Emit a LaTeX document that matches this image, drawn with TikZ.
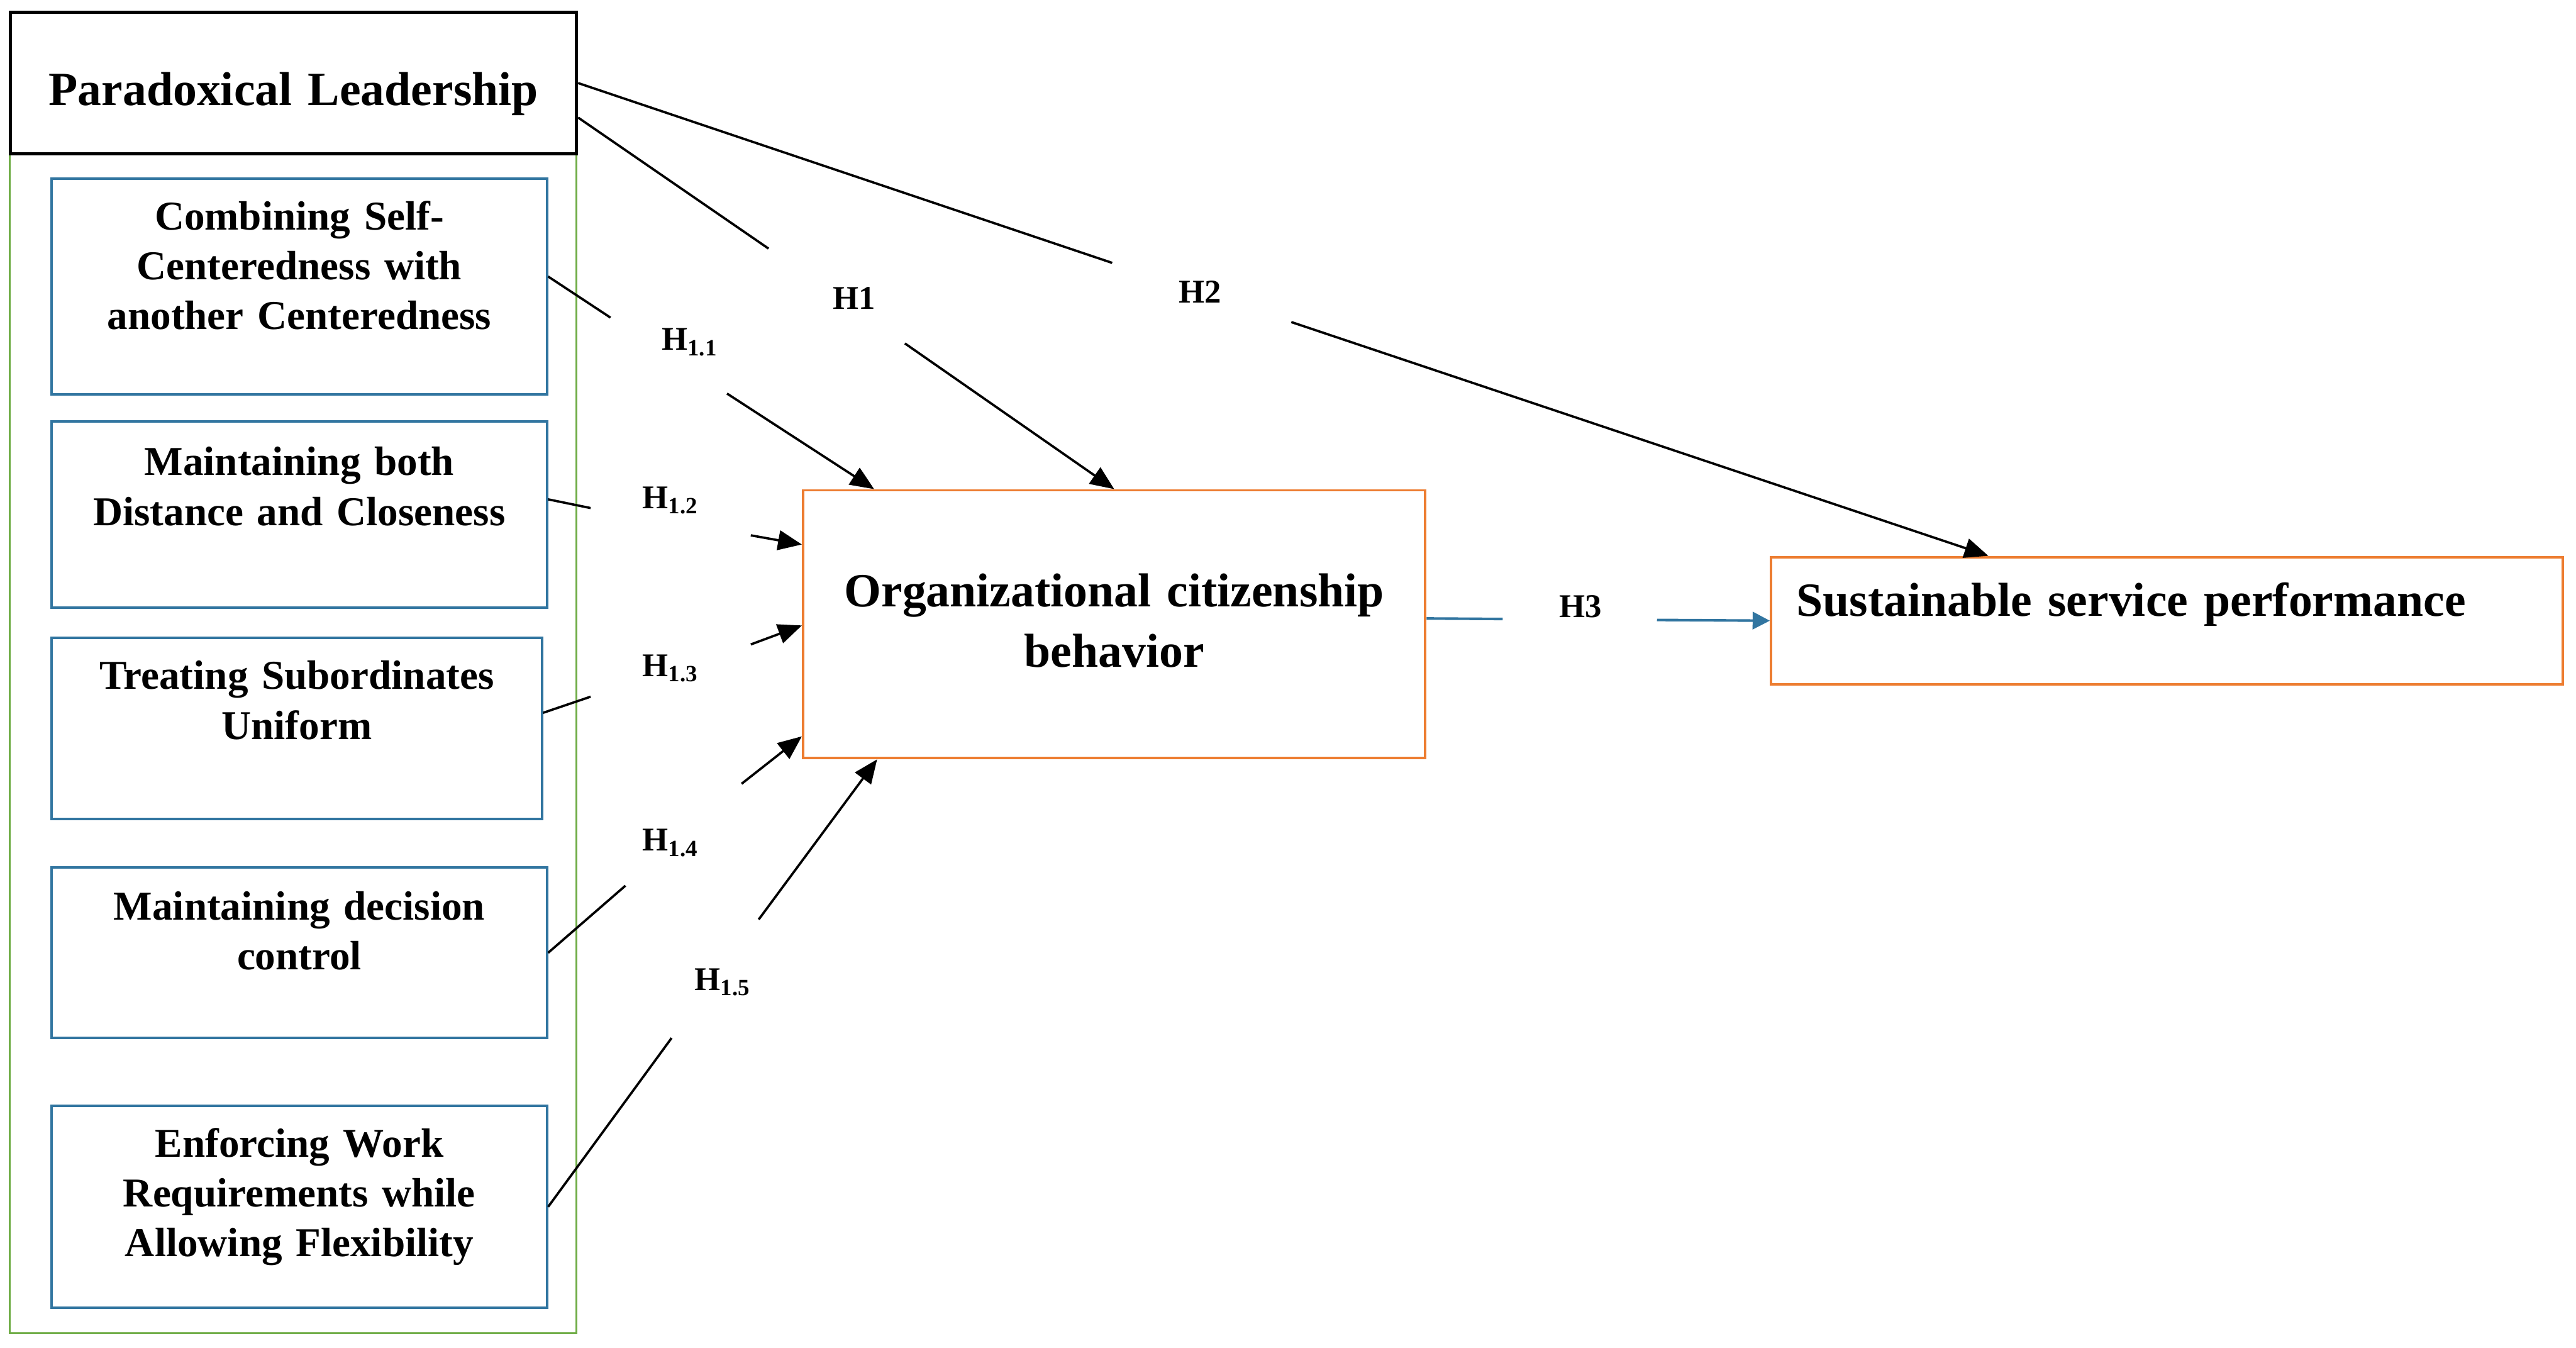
\documentclass[tikz,border=0pt]{standalone}
\usepackage{fontspec}
\setmainfont{Liberation Serif}
\usepackage{xcolor}
\usepackage{tikz}
\usetikzlibrary{arrows.meta, positioning}

\definecolor{dimblue}{RGB}{49,117,160}
\definecolor{grpgreen}{RGB}{112,173,71}
\definecolor{outorange}{RGB}{237,125,49}

\begin{document}
\begin{tikzpicture}[
  x=0.02cm, y=-0.02cm,
  bigfont/.style={font=\fontsize{16.5}{20.9}\selectfont\bfseries},
  dimbox/.style={draw=dimblue, line width=0.85pt, anchor=base, inner sep=0pt, text width=6.03cm, align=center, font=\fontsize{14.2}{17.3}\selectfont\bfseries},
  outbox/.style={draw=outorange, line width=0.85pt, anchor=base, inner sep=0pt, bigfont},
  hyp/.style={font=\fontsize{11.5}{13}\selectfont\bfseries, inner sep=1pt},
  link/.style={draw, line width=0.8pt},
  arr/.style={link, -{Triangle[length=2.9mm, width=2.4mm]}}
]
  \useasboundingbox (0,0) rectangle (1568,820);

  \node[draw=grpgreen, line width=0.65pt, minimum width=6.9cm, minimum height=14.358cm, inner sep=0pt] (dims) at (178.5,452.45) {};
  \node[draw, line width=1.05pt, anchor=base, inner sep=0pt, text width=6.894cm, align=center, text height=1.128cm, text depth=0.59cm, bigfont] (pl) at (178.65,64) {Paradoxical Leadership};

  \node[dimbox, text height=0.624cm, text depth=2.004cm] (c1) at (182.2,139.8) {Combining Self-\\Centeredness with\\another Centeredness};
  \node[dimbox, text height=0.654cm, text depth=1.61cm] (c2) at (182.2,289.3) {Maintaining both\\Distance and Closeness};
  \node[dimbox, text width=5.97cm, text height=0.63cm, text depth=1.582cm] (c3) at (180.65,419.5) {Treating Subordinates\\Uniform};
  \node[dimbox, text height=0.638cm, text depth=1.44cm] (c4) at (182.2,559.8) {Maintaining decision\\control};
  \node[dimbox, text height=0.622cm, text depth=1.84cm] (c5) at (182.2,704) {Enforcing Work\\Requirements while\\Allowing Flexibility};

  \node[outbox, text width=7.576cm, align=center, text height=1.42cm, text depth=1.84cm] (ocb) at (678.2,369.4) {Organizational citizenship\\behavior};
  \node[outbox, text width=9.02cm, inner xsep=0.31cm, align=left, text height=0.72cm, text depth=0.83cm] (ssp) at (1319,375) {Sustainable service performance};

  \node[hyp] (h1) at (520,181.5) {H1};
  \node[hyp] (h2) at (730.3,177.6) {H2};
  \node[hyp] (h3) at (962,369) {H3};
  \node[hyp] (h11) at (420,208.2) {H\textsubscript{1.1}};
  \node[hyp] (h12) at (408.2,304.4) {H\textsubscript{1.2}};
  \node[hyp] (h13) at (408.2,406.6) {H\textsubscript{1.3}};
  \node[hyp] (h14) at (408.3,513) {H\textsubscript{1.4}};
  \node[hyp] (h15) at (440.1,597.8) {H\textsubscript{1.5}};

  \coordinate (g2a) at (677,160);     \coordinate (g2b) at (786,196);
  \coordinate (g1a) at (467.8,151.3); \coordinate (g1b) at (550.8,209);
  \coordinate (g11a) at (371.6,193.3); \coordinate (g11b) at (442.5,239.5);
  \coordinate (g12a) at (359.5,309.2); \coordinate (g12b) at (457,325.8);
  \coordinate (g13a) at (359.5,424);   \coordinate (g13b) at (457,392.2);
  \coordinate (g14a) at (380.7,539);   \coordinate (g14b) at (451.4,477);
  \coordinate (g15a) at (408.8,631.7); \coordinate (g15b) at (461.8,559.6);
  \coordinate (g3a) at (914.7,376.7);  \coordinate (g3b) at (1008.6,377.3);

  \draw[link] (pl.east) -- (g2a);
  \draw[arr] (g2b) -- ([xshift=2.66cm]ssp.north west);
  \draw[link] ([yshift=-0.42cm]pl.east) -- (g1a);
  \draw[arr] (g1b) -- (ocb.north);

  \draw[link] ([yshift=0.12cm]c1.east) -- (g11a);
  \draw[arr] (g11b) -- ([xshift=0.88cm]ocb.north west);
  \draw[link] ([yshift=0.186cm]c2.east) -- (g12a);
  \draw[arr] (g12b) -- ([yshift=-0.674cm]ocb.north west);
  \draw[link] ([yshift=0.19cm]c3.east) -- (g13a);
  \draw[arr] (g13b) -- ([yshift=-1.66cm]ocb.north west);
  \draw[link] (c4.east) -- (g14a);
  \draw[arr] (g14b) -- ([yshift=0.28cm]ocb.south west);
  \draw[link] (c5.east) -- (g15a);
  \draw[arr] (g15b) -- ([xshift=0.916cm]ocb.south west);

  \draw[link, dimblue, line width=0.9pt] ([yshift=0.07cm]ocb.east) -- (g3a);
  \draw[link, dimblue, line width=0.9pt, -{Triangle[length=2.1mm, width=2.1mm]}] (g3b) -- (ssp.west);
\end{tikzpicture}
\end{document}
